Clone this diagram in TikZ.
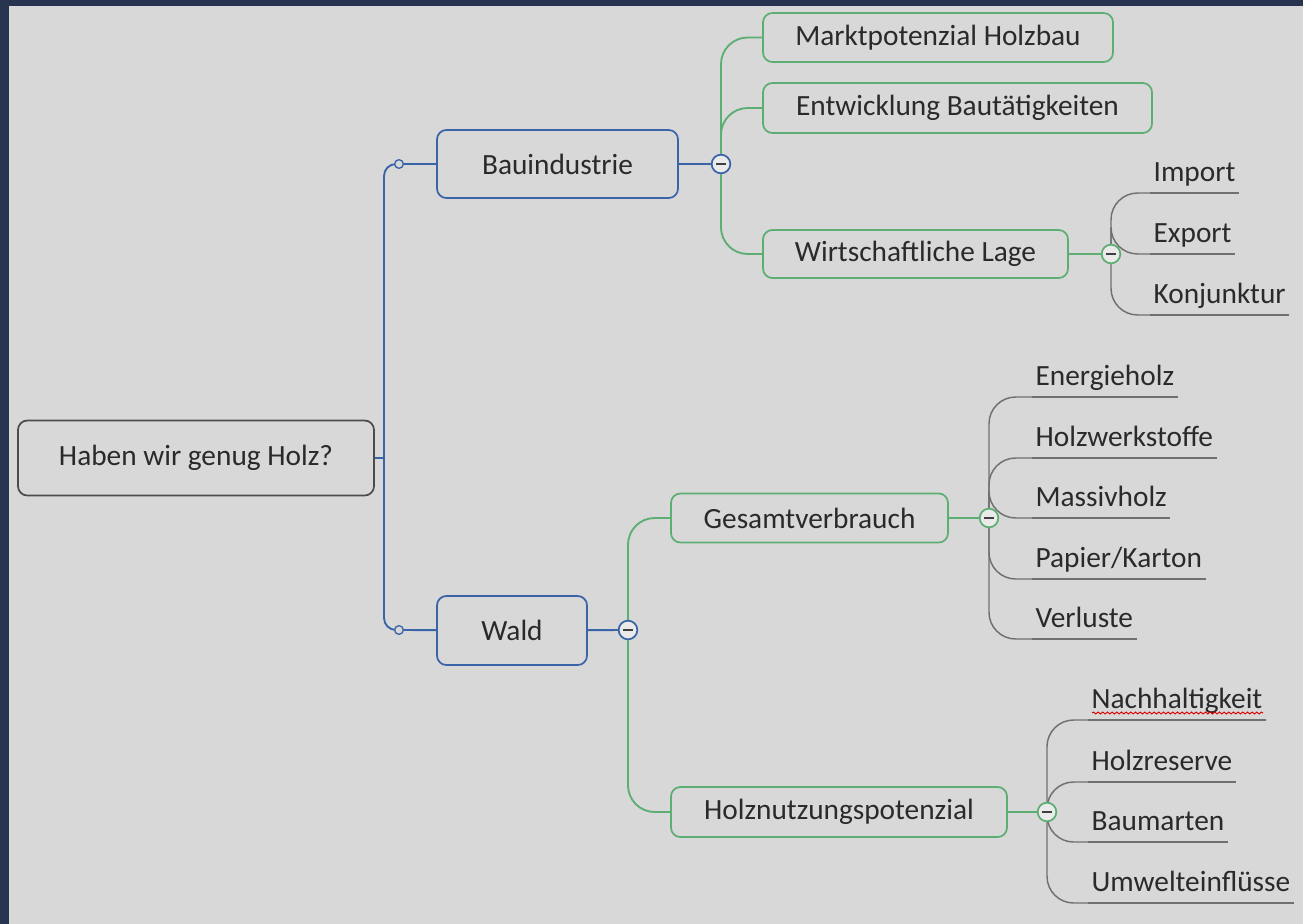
\documentclass[tikz,border=0pt]{standalone}
\usepackage{fontspec}
\setmainfont{Carlito}
\usetikzlibrary{decorations.pathmorphing}
\definecolor{bgray}{HTML}{D8D8D8}
\definecolor{frame}{HTML}{263450}
\definecolor{mmblue}{HTML}{3A64A8}
\definecolor{mmgreen}{HTML}{5DAE72}
\definecolor{twiggray}{HTML}{707070}
\definecolor{txt}{HTML}{2A2A2A}

\begin{document}
\begin{tikzpicture}[
    x=0.75pt, y=-0.75pt,
    font=\fontsize{22}{26}\selectfont, text=txt,
    topic/.style={rectangle, rounded corners=7pt, line width=1.3pt, fill=bgray,
                  inner sep=0pt, align=center},
    central/.style={topic, draw=black!70},
    main/.style={topic, draw=mmblue},
    sub/.style={topic, draw=mmgreen},
    leaf/.style={anchor=south west, inner xsep=2.5pt, inner ysep=8.25pt,
                 text height=14pt, text depth=0pt},
    dot/.style={circle, draw=mmblue, line width=1pt, fill=bgray,
                minimum size=6.5pt, inner sep=0pt},
    collapse/.style={circle, draw=#1, line width=1.3pt, fill=white!45!bgray,
                     minimum size=14pt, inner sep=0pt,
                     path picture={\draw[line width=2pt, black!75]
                         ([xshift=-3.5pt]path picture bounding box.center) --
                         ([xshift=3.5pt]path picture bounding box.center);}},
    trunk/.style={draw=mmblue, line width=1.4pt},
    branch/.style={draw=mmgreen, line width=1.4pt, rounded corners=20pt},
    twig/.style={draw=twiggray, line width=1.1pt, rounded corners=20pt}
]
    \fill[frame] (0,0) rectangle (1303,924);
    \fill[bgray] (9,6) rectangle (1303,924);

    \node[central, minimum width=267pt, minimum height=56.25pt] (root) at (196,458)
        {Haben wir genug Holz?};

    \node[main, minimum width=180.75pt, minimum height=51pt] (bau) at (557.5,164)
        {Bauindustrie};
    \node[main, minimum width=112.5pt, minimum height=51.75pt] (wald) at (512,630.5)
        {Wald};

    \node[sub, minimum width=262.5pt, minimum height=36.75pt] (markt) at (938,37.5)
        {Marktpotenzial Holzbau};
    \node[sub, minimum width=291.75pt, minimum height=37.5pt] (entw) at (957.5,108)
        {Entwicklung Bautätigkeiten};
    \node[sub, minimum width=228.75pt, minimum height=36pt] (wlage) at (915.5,254)
        {Wirtschaftliche Lage};
    \node[sub, minimum width=207.75pt, minimum height=36.75pt] (gesamt) at (809.5,518)
        {Gesamtverbrauch};
    \node[sub, minimum width=252pt, minimum height=37.5pt] (holzn) at (839,812)
        {Holznutzungspotenzial};

    \coordinate (trunk) at (384,458);
    \coordinate (dot-a) at (399,164);
    \coordinate (dot-b) at (399,630);
    \coordinate (bau-k) at (721,164);
    \coordinate (wald-k) at (628,630);
    \coordinate (wlage-k) at (1111,254);
    \coordinate (gesamt-k) at (989,518);
    \coordinate (holzn-k) at (1047,812);

    \draw[trunk] (root) -- (trunk);
    \draw[trunk, rounded corners=9pt] (dot-a) -| (trunk) |- (dot-b);
    \draw[trunk] (dot-a) -- (bau);
    \draw[trunk] (dot-b) -- (wald);
    \draw[trunk] (bau) -- (bau-k);
    \draw[trunk] (wald) -- (wald-k);

    \foreach \n in {markt,entw,wlage}
        \draw[branch] (bau-k) |- (\n.west);
    \foreach \n in {gesamt,holzn}
        \draw[branch] (wald-k) |- (\n.west);
    \draw[branch] (wlage) -- (wlage-k);
    \draw[branch] (gesamt) -- (gesamt-k);
    \draw[branch] (holzn) -- (holzn-k);

    \foreach \y/\t/\n in {193/Import/import, 254/Export/export,
                          315/Konjunktur/konj} {
        \node[leaf] (\n) at (1150,\y) {\t};
        \draw[twig] (\n.south west) -- (\n.south east);
        \draw[twig] (wlage-k) |- (\n.south west);
    }

    \foreach \y/\t/\n in {397/Energieholz/energie, 458/Holzwerkstoffe/werkst,
                          518/Massivholz/massiv, 579/{Papier/Karton}/papier,
                          639/Verluste/verl} {
        \node[leaf] (\n) at (1032,\y) {\t};
        \draw[twig] (\n.south west) -- (\n.south east);
        \draw[twig] (gesamt-k) |- (\n.south west);
    }

    \foreach \y/\t/\n in {720/Nachhaltigkeit/nachh, 782/Holzreserve/reserve,
                          842/Baumarten/baum, 903/Umwelteinflüsse/umwelt} {
        \node[leaf] (\n) at (1088,\y) {\t};
        \draw[twig] (\n.south west) -- (\n.south east);
        \draw[twig] (holzn-k) |- (\n.south west);
    }

    \draw[red!85!black, line width=0.7pt, decorate,
          decoration={snake, amplitude=0.7pt, segment length=3.5pt}]
        ([shift={(3pt,5.25pt)}]nachh.south west) --
        ([shift={(-2pt,5.25pt)}]nachh.south east);

    \node[dot] (dot-a-n) at (dot-a) {};
    \node[dot] (dot-b-n) at (dot-b) {};
    \foreach \k/\c in {bau-k/mmblue, wald-k/mmblue, wlage-k/mmgreen,
                       gesamt-k/mmgreen, holzn-k/mmgreen}
        \node[collapse=\c] (\k-btn) at (\k) {};

\end{tikzpicture}
\end{document}
